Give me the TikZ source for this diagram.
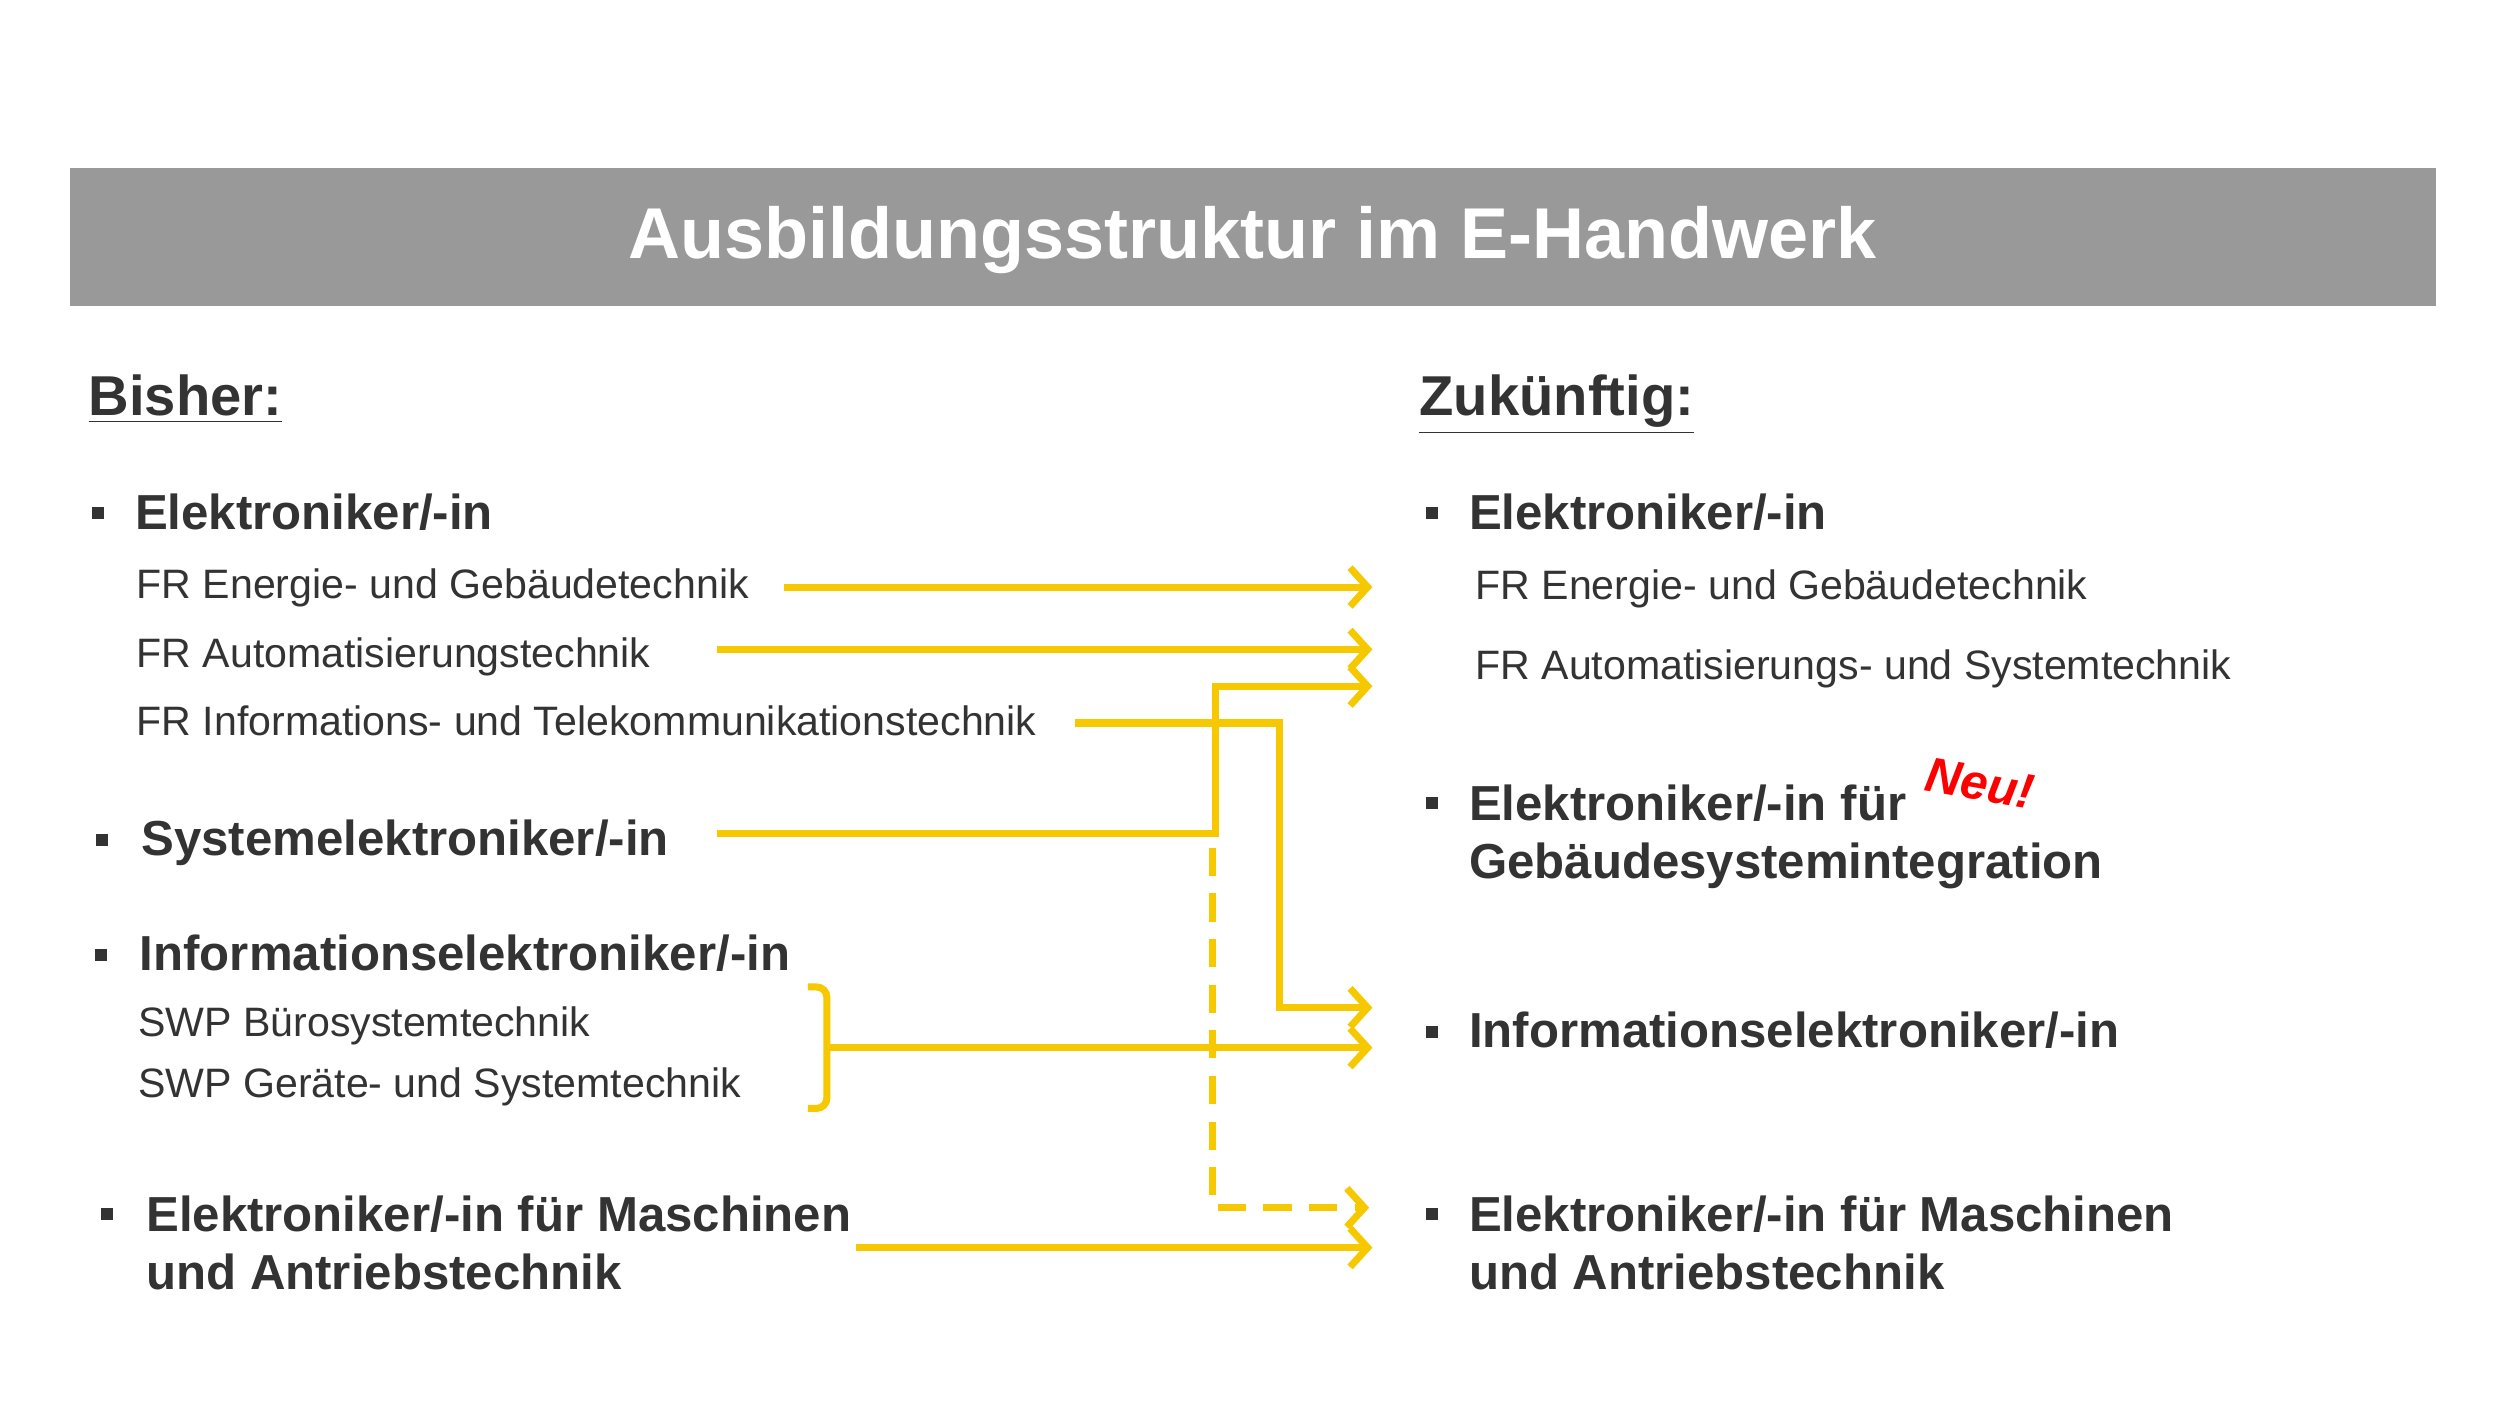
\documentclass[tikz,border=0pt]{standalone}
\usepackage{fontspec}
\setmainfont{Liberation Sans}
\usetikzlibrary{arrows.meta}
\definecolor{txtgray}{HTML}{333333}
\definecolor{bannergray}{HTML}{999999}
\definecolor{arrowyellow}{HTML}{F5C800}
\tikzset{
  title/.style={font=\fontsize{20.5}{24}\selectfont\bfseries, text=white},
  head/.style={anchor=base west, font=\fontsize{16}{19}\selectfont\bfseries, text=txtgray, inner sep=0pt},
  item/.style={anchor=base west, font=\fontsize{14}{16.5}\selectfont\bfseries, text=txtgray, inner sep=0pt, align=left},
  sub/.style={anchor=base west, font=\fontsize{11.7}{14}\selectfont, text=txtgray, inner sep=0pt},
  bullet/.style={fill=txtgray, minimum size=0.12cm, inner sep=0pt},
  link/.style={draw=arrowyellow, line width=2pt, -{Straight Barb[length=5pt,width=11pt,line width=2pt]}}
}
\begin{document}
\begin{tikzpicture}[x=0.016cm, y=-0.016cm]
  \useasboundingbox (0,0) rectangle (1563,880);
  \fill[white] (0,0) rectangle (1563,880);

  % banner
  \fill[bannergray] (44,105) rectangle (1523,191);
  \node[title] (ttl) at (783,150) {Ausbildungsstruktur im E-Handwerk};

  % headings
  \node[head] (bisher) at (55,260) {\underline{Bisher:}};
  \node[head] (zuk) at (887,260) {\underline{Zukünftig:}};

  % left column
  \node[bullet] (b1) at (61,321) {};
  \node[item] (elek) at (84,331) {Elektroniker/-in};
  \node[sub] (fre) at (85,374) {FR Energie- und Gebäudetechnik};
  \node[sub] (fra) at (85,417) {FR Automatisierungstechnik};
  \node[sub] (fri) at (85,460) {FR Informations- und Telekommunikationstechnik};
  \node[bullet] (b2) at (64,525) {};
  \node[item] (sys) at (88,535) {Systemelektroniker/-in};
  \node[bullet] (b3) at (63,597) {};
  \node[item] (info) at (87,607) {Informationselektroniker/-in};
  \node[sub] (swpb) at (86,648) {SWP Bürosystemtechnik};
  \node[sub] (swpg) at (86,686) {SWP Geräte- und Systemtechnik};
  \node[bullet] (b4) at (67,759) {};
  \node[item] (masch) at (91,806) {Elektroniker/-in für Maschinen\\und Antriebstechnik};

  % right column
  \node[bullet] (r1) at (895,321) {};
  \node[item] (relek) at (918,331) {Elektroniker/-in};
  \node[sub] (rfre) at (922,375) {FR Energie- und Gebäudetechnik};
  \node[sub] (rfra) at (922,425) {FR Automatisierungs- und Systemtechnik};
  \node[bullet] (r2) at (895,502) {};
  \node[item] (rgeb) at (918,549) {Elektroniker/-in für\\Gebäudesystemintegration};
  \node[text=red, font=\fontsize{14}{17}\selectfont\bfseries\itshape, rotate=-10] (neu) at (1238,490) {Neu!};
  \node[bullet] (r3) at (895,645) {};
  \node[item] (rinfo) at (918,655) {Informationselektroniker/-in};
  \node[bullet] (r4) at (895,759) {};
  \node[item] (rmasch) at (918,806) {Elektroniker/-in für Maschinen\\und Antriebstechnik};

  % connector ends
  \coordinate (s1) at (490,367);  \coordinate (t1) at (858,367);
  \coordinate (s2) at (448,406);  \coordinate (t2) at (858,406);
  \coordinate (s3) at (448,521);  \coordinate (t3) at (858,429);
  \coordinate (s4) at (672,452);  \coordinate (t4) at (858,630);
  \coordinate (s5) at (517,655);  \coordinate (t5) at (858,655);
  \coordinate (s6) at (758,530);  \coordinate (t6) at (856,755);
  \coordinate (s7) at (535,780);  \coordinate (t7) at (858,780);

  % brace
  \draw[arrowyellow, line width=2pt, rounded corners=3pt]
    (505,617) -- (517,617) -- (517,693) -- (505,693);

  \draw[link] (s1) -- (t1);
  \draw[link] (s2) -- (t2);
  \draw[link] (s3) -| (760,429) -- (t3);
  \draw[link] (s4) -| (800,630) -- (t4);
  \draw[link] (s5) -- (t5);
  \draw[link, dashed, dash pattern=on 8pt off 5pt] (s6) |- (t6);
  \draw[link] (s7) -- (t7);
\end{tikzpicture}
\end{document}
